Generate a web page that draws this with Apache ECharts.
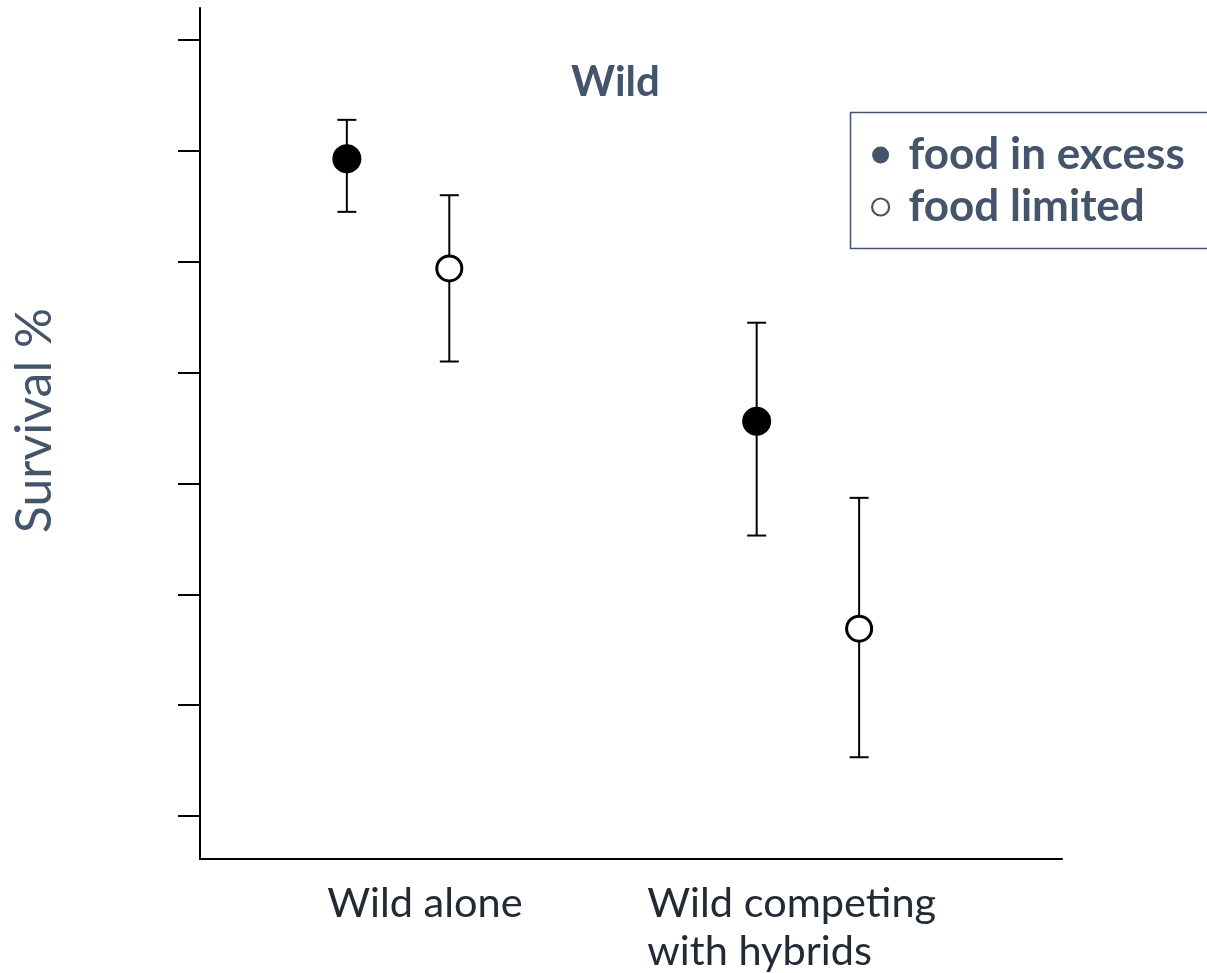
<!DOCTYPE html>
<html>
<head>
<meta charset="utf-8">
<script src="https://cdn.jsdelivr.net/npm/echarts@6/dist/echarts.min.js"></script>
<style>
html,body{margin:0;padding:0;background:#fff;}
#chart{width:1207px;height:973px;}
</style>
</head>
<body>
<div id="chart"></div>
<script>
// ---- data ----
var categories = ['Wild alone', 'Wild competing\nwith hybrids'];
var groupPos = [1, 2];
var labelPos = [0.827, 1.608];
var yTicks = [0, 10, 20, 30, 40, 50, 60, 70];

var excessMean = [59.3, 35.6];
var excessLow  = [54.5, 25.3];
var excessHigh = [62.8, 44.5];

var limitedMean = [49.4, 16.9];
var limitedLow  = [41.0, 5.3];
var limitedHigh = [56.0, 28.7];

var seriesNames = ['food in excess', 'food limited'];
var titleText = 'Wild';
var yName = 'Survival %';

// ---- layout / style ----
var offsets = [-0.125, 0.125];
var slate = '#44546A';
var font = 'Lato';

function points(mean, k) {
  return mean.map(function (v, i) { return [groupPos[i] + offsets[k], v]; });
}
function bars(low, high, k) {
  return low.map(function (v, i) { return [groupPos[i] + offsets[k], v, high[i]]; });
}
function renderErr(params, api) {
  var x = api.value(0);
  var lo = api.coord([x, api.value(1)]);
  var hi = api.coord([x, api.value(2)]);
  var w = 9.5;
  var st = { stroke: '#000', lineWidth: 2 };
  return {
    type: 'group',
    children: [
      { type: 'line', shape: { x1: lo[0], y1: lo[1], x2: hi[0], y2: hi[1] }, style: st },
      { type: 'line', shape: { x1: lo[0] - w, y1: lo[1], x2: lo[0] + w, y2: lo[1] }, style: st },
      { type: 'line', shape: { x1: hi[0] - w, y1: hi[1], x2: hi[0] + w, y2: hi[1] }, style: st }
    ]
  };
}

var chart = echarts.init(document.getElementById('chart'));
chart.setOption({
  animation: false,
  backgroundColor: '#fff',
  textStyle: { fontFamily: font },
  title: {
    text: titleText,
    left: 566,
    top: 56,
    textStyle: { fontFamily: font, fontSize: 42, fontWeight: 'bold', color: slate }
  },
  graphic: [
    {
      type: 'polyline', z: -1, silent: true,
      shape: { points: [[1240, 112.5], [850.5, 112.5], [850.5, 248.5], [1240, 248.5]] },
      style: { fill: 'none', stroke: slate, lineWidth: 1.5 }
    }
  ],
  legend: {
    orient: 'vertical',
    left: 850,
    top: 112,
    padding: [19, 10, 18, 21],
    borderWidth: 0,
    itemGap: 4,
    itemWidth: 46,
    itemHeight: 17,
    selectedMode: false,
    textStyle: { fontFamily: font, fontSize: 44, fontWeight: 'bold', color: slate, lineHeight: 48 },
    data: [
      { name: seriesNames[0], icon: 'circle', itemStyle: { color: slate, borderWidth: 0 } },
      { name: seriesNames[1], icon: 'circle', itemStyle: { color: '#fff', borderColor: slate, borderWidth: 2.2 } }
    ]
  },
  grid: { left: 200, right: 145, top: 8, bottom: 114, containLabel: false, outerBoundsMode: 'none' },
  xAxis: {
    type: 'value',
    min: 0.5167,
    max: 2.62,
    splitLine: { show: false },
    axisTick: { show: false },
    axisLine: { show: true, onZero: false, lineStyle: { color: '#000', width: 2 } },
    axisLabel: {
      customValues: labelPos,
      align: 'left',
      margin: 21,
      fontFamily: font,
      fontSize: 41.5,
      lineHeight: 48,
      color: '#222A35',
      formatter: function (v) {
        var best = 0;
        for (var i = 1; i < labelPos.length; i++) {
          if (Math.abs(labelPos[i] - v) < Math.abs(labelPos[best] - v)) best = i;
        }
        return categories[best];
      }
    }
  },
  yAxis: {
    type: 'value',
    min: -3.88,
    max: 72.89,
    name: yName,
    nameLocation: 'middle',
    nameRotate: 90,
    nameGap: 140,
    nameTextStyle: { fontFamily: font, fontSize: 50, color: slate, padding: [0, 0, 0, 26] },
    splitLine: { show: false },
    axisLine: { show: true, onZero: false, lineStyle: { color: '#000', width: 2 } },
    axisTick: { show: true, inside: false, length: 22, customValues: yTicks, lineStyle: { color: '#000', width: 2 } },
    axisLabel: { show: false }
  },
  series: [
    {
      type: 'custom', name: 'err-excess', renderItem: renderErr, z: 1,
      data: bars(excessLow, excessHigh, 0), encode: { x: 0, y: [1, 2] }
    },
    {
      type: 'custom', name: 'err-limited', renderItem: renderErr, z: 1,
      data: bars(limitedLow, limitedHigh, 1), encode: { x: 0, y: [1, 2] }
    },
    {
      type: 'scatter', name: seriesNames[0], z: 3,
      symbol: 'circle', symbolSize: 29,
      itemStyle: { color: '#000', opacity: 1 },
      data: points(excessMean, 0)
    },
    {
      type: 'scatter', name: seriesNames[1], z: 3,
      symbol: 'circle', symbolSize: 25,
      itemStyle: { color: '#fff', borderColor: '#000', borderWidth: 3, opacity: 1 },
      data: points(limitedMean, 1)
    }
  ]
});
</script>
</body>
</html>
